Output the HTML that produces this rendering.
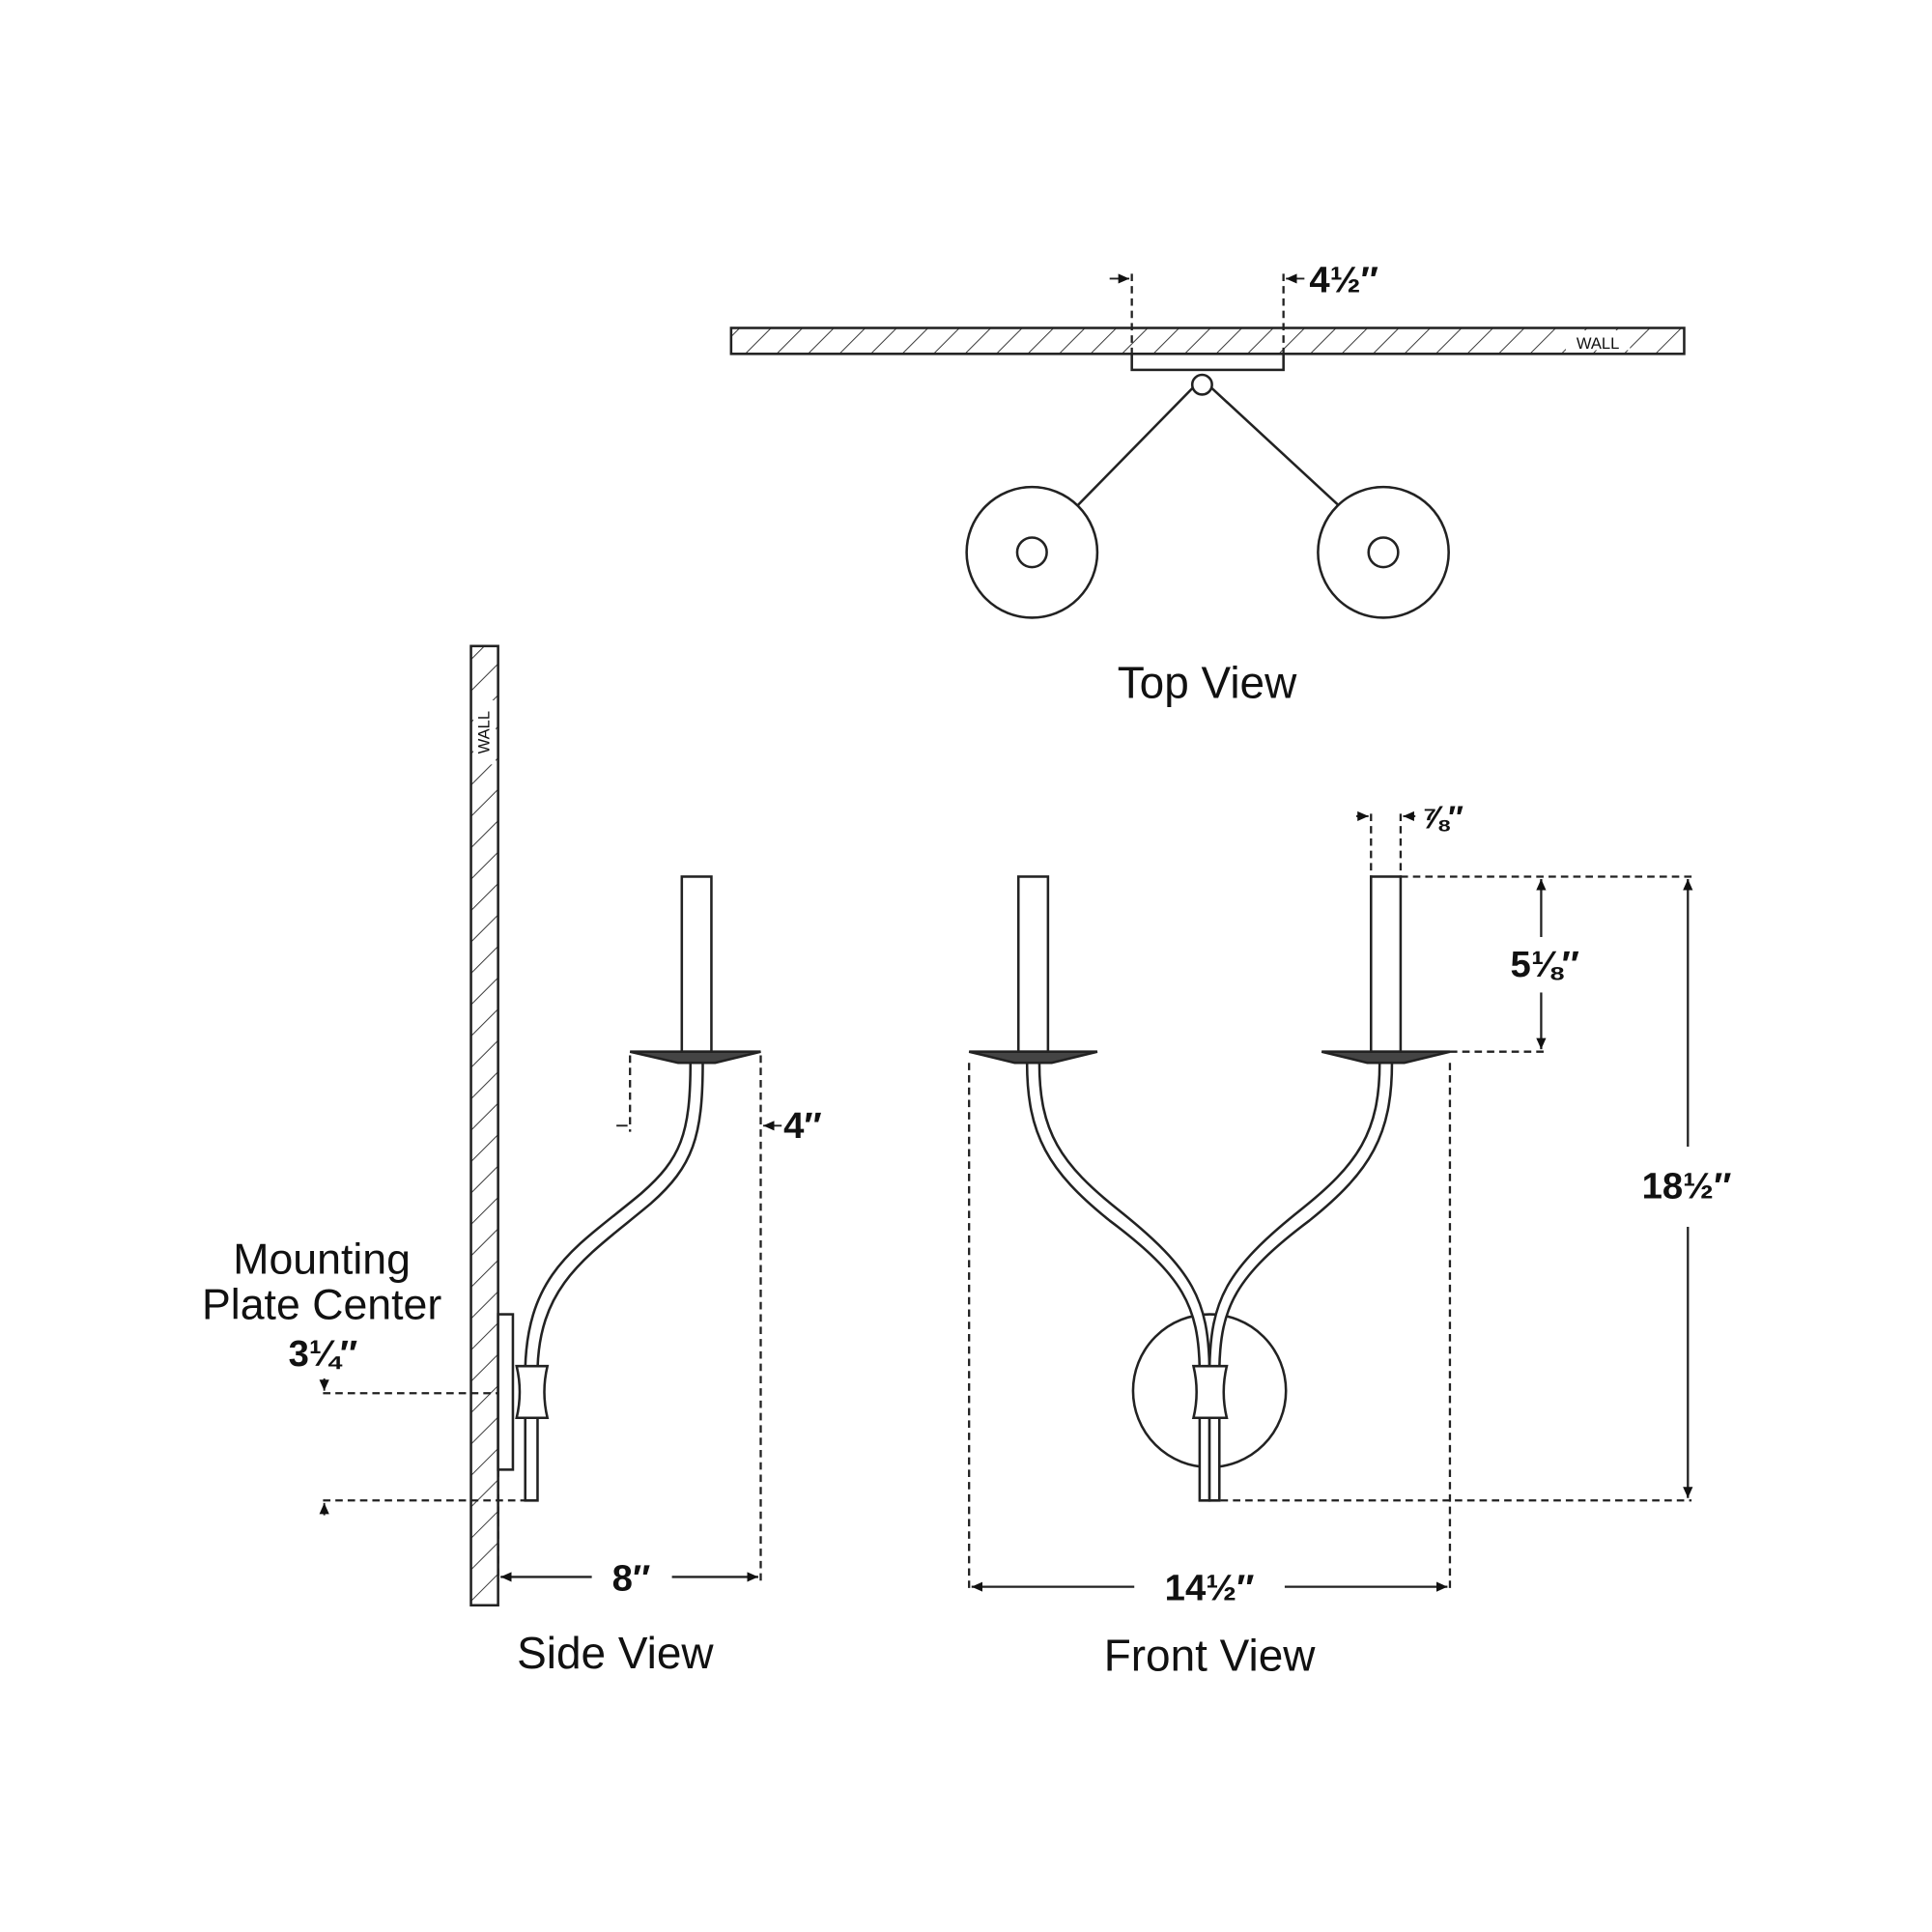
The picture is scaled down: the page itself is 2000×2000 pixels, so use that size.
<!DOCTYPE html>
<html><head><meta charset="utf-8"><style>
html,body{margin:0;padding:0;background:#fff;}
svg{display:block;}
text{font-family:"Liberation Sans",sans-serif;fill:#111;}
</style></head><body>
<svg width="2000" height="2000" viewBox="0 0 1567 1567" xmlns="http://www.w3.org/2000/svg">
<defs>
<pattern id="h" patternUnits="userSpaceOnUse" width="18" height="18" patternTransform="rotate(45)">
<line x1="0" y1="0" x2="0" y2="18" stroke="#333" stroke-width="1.5"/>
</pattern>
<marker id="a" markerWidth="10" markerHeight="10" refX="9" refY="5" orient="auto-start-reverse" markerUnits="userSpaceOnUse">
<path d="M0,1 L9,5 L0,9 z" fill="#111"/></marker>
</defs>
<g stroke="#222" stroke-width="2" fill="none">
<!-- TOP VIEW -->
<rect x="593" y="266" width="773" height="21" fill="url(#h)"/>
<rect x="1270" y="268" width="52" height="16" fill="#fff" stroke="none"/>
<rect x="918" y="287" width="123" height="13" fill="#fff"/>
<line x1="968" y1="314" x2="872" y2="412"/>
<line x1="982" y1="314" x2="1088" y2="412"/>
<circle cx="975" cy="312" r="8" fill="#fff"/>
<circle cx="837" cy="448" r="53" fill="#fff"/>
<circle cx="837" cy="448" r="12"/>
<circle cx="1122" cy="448" r="53" fill="#fff"/>
<circle cx="1122" cy="448" r="12"/>
<g stroke-dasharray="6,4" stroke-width="1.8">
<line x1="918" y1="222" x2="918" y2="287"/>
<line x1="1041" y1="222" x2="1041" y2="287"/>
</g>
<line x1="900" y1="226" x2="916" y2="226" marker-end="url(#a)" stroke-width="1.5"/>
<line x1="1058" y1="226" x2="1043" y2="226" marker-end="url(#a)" stroke-width="1.5"/>

<!-- SIDE VIEW -->
<rect x="382" y="524" width="22" height="778" fill="url(#h)"/>
<rect x="384" y="568" width="18" height="52" fill="#fff" stroke="none"/>
<rect x="404" y="1066" width="12" height="126" fill="#fff"/>
<rect x="553" y="711" width="24" height="142" fill="#fff"/>
<path d="M560 862 C560 920 552 940 520 968 C470 1010 428 1030 426 1110 L426 1217 L436 1217 L436 1110 C438 1040 478 1018 528 976 C562 946 570 922 570 862" fill="#fff"/>
<path d="M511 853 L617 853 L580 862 L550 862 Z" fill="#444"/>
<path d="M419 1108 L444 1108 Q439 1129 444 1150 L419 1150 Q424 1129 419 1108 Z" fill="#fff"/>
<g stroke-dasharray="6,4" stroke-width="1.8">
<line x1="511" y1="856" x2="511" y2="918"/>
<line x1="617" y1="856" x2="617" y2="1283"/>
<line x1="262" y1="1130" x2="404" y2="1130"/>
<line x1="262" y1="1217" x2="431" y2="1217"/>
<line x1="404" y1="1192" x2="404" y2="1283"/>
</g>
<line x1="500" y1="913" x2="509" y2="913" stroke-width="1.5"/>
<line x1="634" y1="913" x2="619" y2="913" marker-end="url(#a)" stroke-width="1.5"/>
<line x1="263" y1="1118" x2="263" y2="1128" marker-end="url(#a)" stroke-width="1.5"/>
<line x1="263" y1="1229" x2="263" y2="1219" marker-end="url(#a)" stroke-width="1.5"/>
<line x1="480" y1="1279" x2="406" y2="1279" marker-end="url(#a)" stroke-width="1.8"/>
<line x1="545" y1="1279" x2="615" y2="1279" marker-end="url(#a)" stroke-width="1.8"/>

<!-- FRONT VIEW -->
<circle cx="981" cy="1128" r="62" fill="#fff"/>
<rect x="826" y="711" width="24" height="142" fill="#fff"/>
<rect x="1112" y="711" width="24" height="142" fill="#fff"/>
<path d="M833 862 C833 920 850 950 900 990 C960 1035 972 1060 973 1110 L973 1217 L981 1217 L981 1110 C980 1055 968 1030 908 982 C860 944 843 918 843 862" fill="#fff"/>
<path d="M1129 862 C1129 920 1112 950 1062 990 C1002 1035 990 1060 989 1110 L989 1217 L981 1217 L981 1110 C982 1055 994 1030 1054 982 C1102 944 1119 918 1119 862" fill="#fff"/>
<path d="M786 853 L890 853 L853 862 L823 862 Z" fill="#444"/>
<path d="M1072 853 L1176 853 L1139 862 L1109 862 Z" fill="#444"/>
<path d="M968 1108 L995 1108 Q990 1129 995 1150 L968 1150 Q973 1129 968 1108 Z" fill="#fff"/>
<g stroke-dasharray="6,4" stroke-width="1.8">
<line x1="786" y1="862" x2="786" y2="1292"/>
<line x1="1176" y1="862" x2="1176" y2="1292"/>
<line x1="1112" y1="660" x2="1112" y2="711"/>
<line x1="1136" y1="660" x2="1136" y2="711"/>
<line x1="1136" y1="711" x2="1372" y2="711"/>
<line x1="1176" y1="853" x2="1252" y2="853"/>
<line x1="990" y1="1217" x2="1372" y2="1217"/>
</g>
<line x1="1100" y1="662" x2="1110" y2="662" marker-end="url(#a)" stroke-width="1.5"/>
<line x1="1148" y1="662" x2="1138" y2="662" marker-end="url(#a)" stroke-width="1.5"/>
<line x1="1250" y1="760" x2="1250" y2="713" marker-end="url(#a)" stroke-width="1.8"/>
<line x1="1250" y1="805" x2="1250" y2="851" marker-end="url(#a)" stroke-width="1.8"/>
<line x1="1369" y1="930" x2="1369" y2="713" marker-end="url(#a)" stroke-width="1.8"/>
<line x1="1369" y1="995" x2="1369" y2="1215" marker-end="url(#a)" stroke-width="1.8"/>
<line x1="920" y1="1287" x2="788" y2="1287" marker-end="url(#a)" stroke-width="1.8"/>
<line x1="1042" y1="1287" x2="1174" y2="1287" marker-end="url(#a)" stroke-width="1.8"/>
</g>
<!-- Text -->
<text x="1296" y="283" font-size="13" text-anchor="middle">WALL</text>
<text x="397" y="594" font-size="13" text-anchor="middle" transform="rotate(-90 397 594)">WALL</text>
<text x="1090" y="237" font-size="30" font-weight="bold" text-anchor="middle">4½″</text>
<text x="979" y="566" font-size="36" text-anchor="middle">Top View</text>
<text x="651" y="923" font-size="30" font-weight="bold" text-anchor="middle">4″</text>
<text x="261" y="1033" font-size="35" text-anchor="middle">Mounting</text>
<text x="261" y="1070" font-size="35" text-anchor="middle">Plate Center</text>
<text x="262" y="1108" font-size="30" font-weight="bold" text-anchor="middle">3¼″</text>
<text x="512" y="1290" font-size="30" font-weight="bold" text-anchor="middle">8″</text>
<text x="499" y="1353" font-size="36" text-anchor="middle">Side View</text>
<text x="1170" y="672" font-size="26" font-weight="bold" text-anchor="middle">⅞″</text>
<text x="1253" y="792" font-size="30" font-weight="bold" text-anchor="middle">5⅛″</text>
<text x="1368" y="972" font-size="30" font-weight="bold" text-anchor="middle">18½″</text>
<text x="981" y="1298" font-size="30" font-weight="bold" text-anchor="middle">14½″</text>
<text x="981" y="1355" font-size="36" text-anchor="middle">Front View</text>
</svg>
</body></html>
